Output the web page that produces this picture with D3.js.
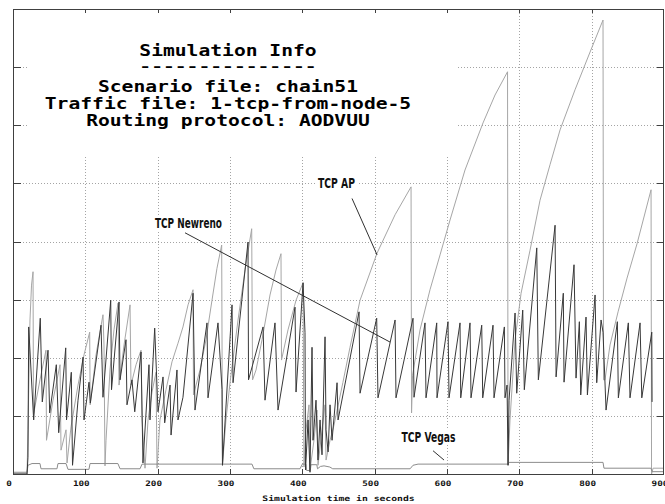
<!DOCTYPE html>
<html><head><meta charset="utf-8">
<script src="https://cdn.jsdelivr.net/npm/d3@7"></script>
<style>
html,body{margin:0;padding:0;background:#fff;}
svg{display:block;}
</style></head><body>
<svg id="chart" width="665" height="504"></svg>
<script>
// ---------- data ----------
const xTickValues = [0,100,200,300,400,500,600,700,800,900];
const yTickValues = [0,1,2,3,4,5,6,7,8];
const infoLines = ["Simulation Info","---------------","Scenario file: chain51","Traffic file: 1-tcp-from-node-5","Routing protocol: AODVUU"];
const xAxisTitle = "Simulation time in seconds";
const seriesNames = ["TCP AP","TCP Newreno","TCP Vegas"];

// [time (s), window]
const tcpAp = [[0,0],[19.4,0],[20.7,0.76],[23.5,2.65],[25.6,3.25],[27.7,3.48],[28.3,1.02],[37.3,1.62],[45.6,2.13],[46.3,0.58],[55.3,1.27],[65,1.88],[66.4,0.41],[73.3,0.76],[74.7,0.19],[80.2,0.81],[89.9,1.53],[98.2,2.05],[106,2.44],[106.7,1.19],[114.8,2.05],[124.4,2.74],[125.8,2.22],[127.2,0.14],[128.6,0.58],[134.1,1.79],[139.6,2.48],[145.2,2.94],[146.6,1.53],[153.5,2.22],[161.8,2.91],[163.1,1.53],[170.1,1.88],[177,2.13],[178.4,0.93],[182.5,0.1],[186.7,0.93],[192.2,1.41],[197.7,1.75],[199.1,0.1],[203.2,0.93],[211.5,1.45],[219.8,1.93],[228.1,2.25],[235,2.53],[242,2.91],[248.9,3.17],[249.5,1.36],[258.5,1.79],[266.8,2.31],[275.1,2.99],[282,3.54],[288.5,3.94],[289.6,0.15],[294.4,0.93],[300,1.57],[311.1,2.65],[320.8,3.51],[330,4.22],[331.2,1.62],[336,1.79],[344.3,2.31],[355.3,3.08],[363.6,3.51],[370.5,3.79],[371.2,1.96],[380.2,2.48],[391.3,2.99],[401,3.29],[402.3,0.12],[405.1,0.76],[409.2,1.19],[410.6,0.07],[416.1,0.58],[420.3,1.1],[421.7,0.15],[427.2,0.76],[431.4,1.19],[432.8,0.24],[438.3,0.58],[443.8,0.84],[456,1.57],[465.9,2.18],[479.8,2.99],[503.3,3.8],[528.2,4.46],[550.3,4.94],[551,1.05],[552.4,1.7],[562.7,2.48],[576.5,3.17],[590.4,3.77],[604.2,4.37],[624.9,5.23],[649.8,6.04],[666.4,6.52],[683.7,6.92],[684.4,0.15],[687.1,0.93],[694.1,2.31],[702.4,3.11],[714.8,3.85],[728.6,4.71],[742.4,5.32],[756.3,5.92],[777,6.61],[797.8,7.26],[815.7,7.81],[816.4,1.62],[818.4,1.62],[825.4,2.22],[836.5,2.79],[848.9,3.37],[862.7,3.96],[882.1,4.89],[882.8,0],[884.9,0.1],[900,0.1]];

const tcpNewreno = [[0,0],[19.4,0],[20.7,0.29],[21.7,2.53],[28.6,0.93],[37.7,2.68],[40.5,1.24],[48.4,2.13],[50.7,1.05],[59.9,1.88],[63.2,0.71],[72.9,2.17],[74,0.93],[80.6,1.75],[82.3,0.15],[89.9,1.27],[96.8,2.01],[98.2,0.93],[105.1,1.58],[106.9,1.22],[121.7,2.56],[124.4,1.32],[135.1,2.99],[136.2,1.45],[146.6,2.96],[148,1.62],[156.2,2.31],[157.6,1.19],[164.5,1.62],[168.3,1.07],[177,2.10],[179.7,0.19],[188,1.88],[189.4,0.93],[195.9,2.51],[200.5,1.07],[207.4,1.67],[209.7,0.88],[217.1,1.53],[218.5,0.67],[226.7,1.79],[228.1,0.93],[235,1.32],[248.9,3.11],[251.6,1.10],[268.2,2.60],[269.6,1.31],[283.4,2.60],[289,1.45],[289.6,0.15],[302.8,2.91],[304.2,1.57],[324.9,3.99],[325.6,1.62],[345.7,2.53],[348.4,1.27],[362.2,2.60],[366.4,1.10],[389.9,2.87],[391.3,1.41],[401,3.29],[403.7,2.43],[404.4,0.07],[407.9,0.93],[410.6,0.03],[413.4,2.18],[414.8,0.58],[418.9,1.27],[421.7,0.24],[424.5,0.93],[427.2,0.33],[431.4,2.36],[432.8,0.76],[435.6,0.38],[438.3,1.19],[441.1,0.58],[448,1.57],[449.4,0.93],[478.4,2.79],[479.8,1.39],[502.8,2.68],[504.6,1.31],[528.2,2.65],[529.5,1.31],[553,2.68],[554.4,1.32],[569.6,2.60],[571,1.31],[585.8,2.60],[586.2,1.31],[601.4,2.62],[602.8,1.31],[618,2.60],[619,1.31],[631.8,2.60],[633.2,1.31],[648,2.56],[649.4,1.31],[663.6,2.56],[665,1.31],[679.3,2.53],[680.2,1.31],[683,1.53],[684.4,0.15],[685.8,1.27],[694.1,2.77],[696.4,1.39],[704.7,2.82],[706.9,1.45],[724.1,3.89],[726.3,1.62],[749.4,4.28],[750.8,1.67],[760.8,3.11],[761.8,1.58],[775.6,3.60],[778.4,1.65],[783,2.62],[784.9,1.36],[792.2,2.70],[794.1,1.36],[804.7,3.08],[807,1.57],[813,2.65],[815.7,2.44],[819.9,1.10],[835.5,2.62],[836.9,1.31],[850.7,2.60],[853,1.31],[866.9,2.60],[869.3,1.31],[883.1,2.44],[883.5,1.24]];

const tcpVegas = [[0,0.03],[19.4,0.03],[20.7,0.15],[26.3,0.18],[37.3,0.18],[38.7,0.09],[60.8,0.09],[62.2,0.18],[73.3,0.18],[76,0.08],[105,0.08],[106.5,0.18],[145,0.18],[148,0.09],[175.6,0.09],[178.4,0.17],[330.4,0.17],[333,0.09],[396.8,0.09],[400,0.17],[405,0.17],[406,0.06],[411,0.06],[412,0.16],[420,0.16],[421,0.09],[425,0.13],[430,0.14],[438,0.12],[442,0.09],[549,0.09],[553,0.15],[560,0.17],[684.4,0.17],[685.8,0.20],[815.7,0.20],[817,0.10],[882,0.10],[883.5,0.04],[900,0.04]];

// ---------- drawing ----------
(function () {
const W = 665, H = 504;
const svg = d3.select("#chart");
svg.append("rect").attr("width", W).attr("height", H).attr("fill", "#fff");

const xs = d3.scaleLinear().domain([0, 900]).range([13, 664]);
const ys = d3.scaleLinear().domain([0, 8]).range([474, 9]);
const px = v => Math.round(v) + 0.5;

const pLeft = 13.5, pRight = 663.5, pTop = 9.5, pBottom = 474.5;

// clip
svg.append("defs").append("clipPath").attr("id", "plotclip")
  .append("rect").attr("x", 13).attr("y", 9).attr("width", 651).attr("height", 466);

// grid
const grid = svg.append("g").attr("stroke", "#a4a4a4").attr("stroke-dasharray", "1,2").attr("shape-rendering", "crispEdges");
xTickValues.slice(1, -1).forEach(t => {
  grid.append("line").attr("x1", px(xs(t))).attr("x2", px(xs(t))).attr("y1", pTop).attr("y2", pBottom);
});
yTickValues.slice(1, -1).forEach(v => {
  grid.append("line").attr("x1", pLeft).attr("x2", pRight).attr("y1", px(ys(v))).attr("y2", px(ys(v)));
});

// white panel behind the info text
svg.append("rect").attr("x", 29).attr("y", 10).attr("width", 429).attr("height", 145).attr("fill", "#fff");

// series
const line = d3.line().x(d => xs(d[0])).y(d => ys(d[1]));
const plot = svg.append("g").attr("clip-path", "url(#plotclip)");
plot.append("path").datum(tcpAp).attr("d", line).attr("fill", "none").attr("stroke", "#a6a6a6").attr("stroke-width", 1);
plot.append("path").datum(tcpVegas).attr("d", line).attr("fill", "none").attr("stroke", "#8c8c8c").attr("stroke-width", 1);
plot.append("path").datum(tcpNewreno).attr("d", line).attr("fill", "none").attr("stroke", "#383838").attr("stroke-width", 1);

// annotations (text anchor and pointer in data units)
const annotations = [
  {name: seriesNames[1], at: [196.3, 4.23], from: [237.8, 4.15], to: [521.2, 2.27], w: 67},
  {name: seriesNames[0], at: [421.7, 4.92], from: [468.7, 4.74], to: [503.3, 3.77], w: 37},
  {name: seriesNames[2], at: [537.1, 0.55], from: [580.7, 0.40], to: [595.9, 0.24], w: 54}
];
const ann = svg.append("g");
annotations.forEach(a => {
  ann.append("line")
    .attr("x1", xs(a.from[0])).attr("y1", ys(a.from[1]))
    .attr("x2", xs(a.to[0])).attr("y2", ys(a.to[1]))
    .attr("stroke", "#303030").attr("stroke-width", 1);
  const g = ann.append("g");
  const bg = g.append("rect").attr("fill", "#fff");
  const t = g.append("text")
    .attr("x", xs(a.at[0])).attr("y", ys(a.at[1]))
    .attr("font-family", "'Liberation Sans Narrow', 'DejaVu Sans Condensed', 'Arial Narrow', sans-serif")
    .attr("font-stretch", "condensed")
    .attr("font-weight", "bold").attr("font-size", 13.5)
    .attr("textLength", a.w).attr("lengthAdjust", "spacingAndGlyphs")
    .attr("fill", "#111")
    .text(a.name);
  const bb = t.node().getBBox();
  bg.attr("x", bb.x - 2).attr("y", bb.y + 1).attr("width", bb.width + 4).attr("height", bb.height - 1);
});

// frame and ticks
const frame = svg.append("g").attr("stroke", "#404040").attr("shape-rendering", "crispEdges").attr("fill", "none");
frame.append("rect").attr("x", pLeft).attr("y", pTop).attr("width", pRight - pLeft).attr("height", pBottom - pTop);
xTickValues.slice(1, -1).forEach(t => {
  const x = px(xs(t));
  frame.append("line").attr("x1", x).attr("x2", x).attr("y1", pBottom).attr("y2", pBottom - 6);
  frame.append("line").attr("x1", x).attr("x2", x).attr("y1", pTop).attr("y2", pTop + 3);
});
yTickValues.slice(1, -1).forEach(v => {
  const y = px(ys(v));
  frame.append("line").attr("x1", pLeft).attr("x2", pLeft + 7).attr("y1", y).attr("y2", y);
  frame.append("line").attr("x1", pRight).attr("x2", pRight - 7).attr("y1", y).attr("y2", y);
});

// tick labels
const mono = "'DejaVu Sans Mono', 'Liberation Mono', monospace";
const tickLabels = svg.append("g");
xTickValues.forEach(t => {
  const s = String(t);
  tickLabels.append("text")
    .attr("x", xs(t) - 4).attr("y", 485.5)
    .attr("text-anchor", "middle")
    .attr("font-family", mono).attr("font-weight", "bold").attr("font-size", 7.5)
    .attr("textLength", s.length * 5.6).attr("lengthAdjust", "spacingAndGlyphs")
    .attr("fill", "#111")
    .text(s);
});
svg.append("text")
  .attr("x", (xs(0) + xs(900)) / 2).attr("y", 500.5)
  .attr("text-anchor", "middle")
  .attr("font-family", mono).attr("font-weight", "bold").attr("font-size", 7.5)
  .attr("textLength", xAxisTitle.length * 5.86).attr("lengthAdjust", "spacingAndGlyphs")
  .attr("fill", "#111")
  .text(xAxisTitle);

// info block
const infoBaselines = [56, 71, 92, 109, 126];
const infoSizes = [15, 12, 15, 15, 15];
infoLines.forEach((s, i) => {
  svg.append("text")
    .attr("x", 228).attr("y", infoBaselines[i])
    .attr("text-anchor", "middle")
    .attr("font-family", mono).attr("font-weight", "bold").attr("font-size", infoSizes[i])
    .attr("textLength", s.length * 11.82).attr("lengthAdjust", "spacingAndGlyphs")
    .attr("fill", "#000")
    .text(s);
});
})();
</script>
</body></html>
